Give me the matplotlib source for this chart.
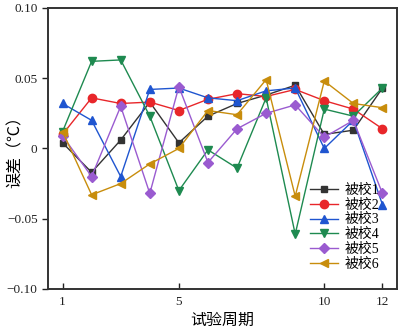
import matplotlib
matplotlib.use("Agg")
import matplotlib.pyplot as plt
from matplotlib.ticker import FuncFormatter

plt.rcParams['font.family'] = ['Liberation Serif', 'Noto Sans CJK SC']
plt.rcParams['axes.unicode_minus'] = True

# --- data ---
periods = list(range(1, 13))
names = ["被校1", "被校2", "被校3", "被校4", "被校5", "被校6"]
s1 = [0.004, -0.017, 0.006, 0.033, 0.004, 0.023, 0.032, 0.038, 0.045, 0.010, 0.013, 0.043]
s2 = [0.010, 0.036, 0.032, 0.033, 0.027, 0.035, 0.039, 0.037, 0.042, 0.034, 0.028, 0.014]
s3 = [0.032, 0.020, -0.020, 0.042, 0.043, 0.036, 0.034, 0.041, 0.043, 0.000, 0.020, -0.040]
s4 = [0.012, 0.062, 0.063, 0.023, -0.030, -0.001, -0.014, 0.036, -0.061, 0.028, 0.023, 0.043]
s5 = [0.009, -0.020, 0.030, -0.032, 0.044, -0.010, 0.014, 0.025, 0.031, 0.008, 0.020, -0.032]
s6 = [0.012, -0.033, -0.025, -0.011, 0.000, 0.027, 0.024, 0.049, -0.034, 0.048, 0.032, 0.029]
series = [s1, s2, s3, s4, s5, s6]

colors = ['#333333', '#e8262a', '#1f55d0', '#1e8a50', '#9a5bd0', '#c88d0c']
markers = ['s', 'o', '^', 'v', 'D', '<']
msizes = [5, 6, 6, 6, 5, 6]

fig = plt.figure(figsize=(4.0, 3.31), dpi=100)
ax = fig.add_axes([0.12, 0.127, 0.8725, 0.849])

for vals, name, c, m, ms in zip(series, names, colors, markers, msizes):
    ax.plot(periods, vals, color=c, marker=m, markersize=ms, linewidth=1.0, label=name)

ax.set_xlim(0.5, 12.5)
ax.set_ylim(-0.1, 0.1)
ax.set_xticks([1, 5, 10, 12])
ax.set_yticks([-0.10, -0.05, 0, 0.05, 0.10])
ax.yaxis.set_major_formatter(FuncFormatter(lambda v, p: "0" if abs(v) < 1e-9 else f"{v:.2f}".replace("-", "\u2212")))

ax.tick_params(axis='x', direction='in', length=4, width=1, labelsize=9.5, colors='#222222', pad=5)
ax.tick_params(axis='y', direction='out', length=4, width=1, labelsize=9.5, colors='#222222')
for sp in ax.spines.values():
    sp.set_linewidth(1.4)
    sp.set_color('#333333')

ax.set_xlabel("试验周期", fontsize=11.5, labelpad=3, family=['Noto Sans CJK SC'])
ax.set_ylabel("误差（℃）", fontsize=11.5, family=['Noto Sans CJK SC'])
ax.yaxis.set_label_coords(-0.07, 0.5)

ax.legend(loc='lower right', frameon=False, handlelength=2.0,
          labelspacing=0.12, borderaxespad=0.0, bbox_to_anchor=(0.965, 0.045),
          handletextpad=0.5,
          prop={'family': ['Liberation Serif', 'Noto Sans CJK SC'], 'size': 10})

fig.savefig("out.png", dpi=100)
plt.close(fig)
